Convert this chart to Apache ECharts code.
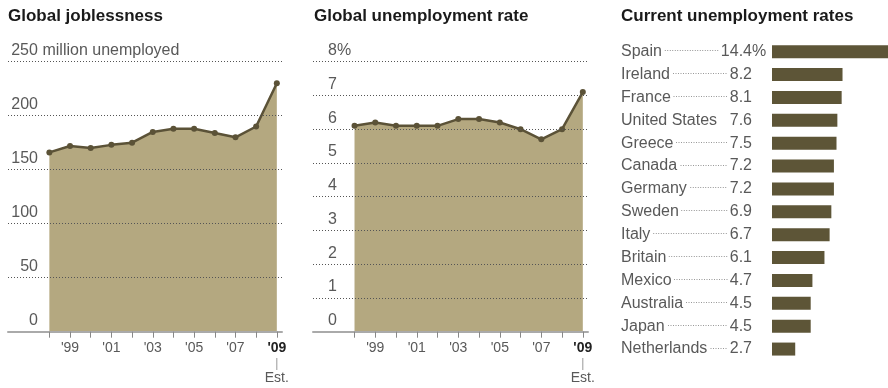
<!DOCTYPE html>
<html>
<head>
<meta charset="utf-8">
<script src="https://cdn.jsdelivr.net/npm/echarts@6/dist/echarts.min.js"></script>
<style>
html,body{margin:0;padding:0;background:#fff;}
#c{width:888px;height:388px;}
</style>
</head>
<body>
<div id="c"></div>
<script>
// ---- data ----
var years = [1998, 1999, 2000, 2001, 2002, 2003, 2004, 2005, 2006, 2007, 2008, 2009];
var labelYears = [1999, 2001, 2003, 2005, 2007, 2009];
var joblessMillions = [166, 172, 170, 173, 175, 185, 188, 188, 184, 180, 190, 230];
var unemploymentRate = [6.1, 6.2, 6.1, 6.1, 6.1, 6.3, 6.3, 6.2, 6.0, 5.7, 6.0, 7.1];
var joblessTicks = [0, 50, 100, 150, 200, 250];
var rateTicks = [0, 1, 2, 3, 4, 5, 6, 7, 8];
var countries = ['Spain', 'Ireland', 'France', 'United States', 'Greece', 'Canada', 'Germany',
  'Sweden', 'Italy', 'Britain', 'Mexico', 'Australia', 'Japan', 'Netherlands'];
var countryRates = [14.4, 8.2, 8.1, 7.6, 7.5, 7.2, 7.2, 6.9, 6.7, 6.1, 4.7, 4.5, 4.5, 2.7];
var countryRateText = ['14.4', '8.2', '8.1', '7.6', '7.5', '7.2', '7.2', '6.9', '6.7', '6.1', '4.7', '4.5', '4.5', '2.7'];

// ---- styles ----
var FONT = '"Liberation Sans", Arial, Helvetica, sans-serif';
var TXT = '#595959';
var AREA = '#b4a880';
var LINE = '#5b5237';
var BAR = '#5d5537';

var cv = document.createElement('canvas').getContext('2d');
function tw(s, size) { cv.font = size + 'px "Liberation Sans", Arial, sans-serif'; return cv.measureText(s).width; }

function yearFmt(v) {
  var s = "'" + String(v).slice(2);
  if (v === 2009) return '{b|' + s + '}\n{l||}\n{e|Est.}';
  return '{t|' + s + '}';
}
var xRich = {
  t: {fontSize: 14, color: TXT, fontFamily: FONT, lineHeight: 15},
  b: {fontSize: 14, color: '#222', fontWeight: 'bold', fontFamily: FONT, lineHeight: 15},
  l: {fontSize: 12, color: '#999', fontFamily: FONT, lineHeight: 15},
  e: {fontSize: 14, color: TXT, fontFamily: FONT, lineHeight: 15}
};

function makeXAxis(gi) {
  return {
    gridIndex: gi, type: 'value', min: 1996, max: 2009.25, z: 6,
    axisLine: {show: true, lineStyle: {color: '#aaa', width: 2}},
    axisTick: {show: true, length: 6, customValues: years, lineStyle: {color: '#888', width: 1}},
    axisLabel: {customValues: labelYears, margin: 9, formatter: yearFmt, rich: xRich},
    splitLine: {show: false}
  };
}

var splitStyle = {show: true, lineStyle: {type: [1, 2], color: '#555', width: 1}};

// right-chart label builder
var LBL_W = 752 - 621;
var DOT_SIZE = 9;
function countryLabel(value, idx) {
  var name = countries[idx];
  var val = countryRateText[idx];
  var nw = tw(name, 16), vw = tw(val, 16);
  var room = LBL_W - nw - vw;
  var dw = tw('.', DOT_SIZE);
  var n = room > 16 ? Math.floor((room - 3) / dw) : 0;
  var dots = n > 0 ? new Array(n + 1).join('.') : ' ';
  var s = '{n|' + name + '}{d' + idx + '|' + dots + '}{v|' + val + '}';
  if (idx === 0) s += '{v|%}';
  return s;
}
var cRich = {
  n: {fontSize: 16, color: TXT, fontFamily: FONT},
  v: {fontSize: 16, color: TXT, fontFamily: FONT}
};
countries.forEach(function (c, i) {
  var room = LBL_W - tw(c, 16) - tw(countryRateText[i], 16);
  cRich['d' + i] = {fontSize: DOT_SIZE, color: '#888', fontFamily: FONT, width: Math.max(room, 1), align: 'center', padding: [0, 0, 6, 0]};
});

var option = {
  animation: false,
  backgroundColor: '#fff',
  textStyle: {fontFamily: FONT},
  title: [
    {text: 'Global joblessness', left: 8, top: 8, padding: 0, textStyle: {fontSize: 17, fontWeight: 'bold', color: '#1a1a1a', fontFamily: FONT}},
    {text: 'Global unemployment rate', left: 314, top: 8, padding: 0, textStyle: {fontSize: 17, fontWeight: 'bold', color: '#1a1a1a', fontFamily: FONT}},
    {text: 'Current unemployment rates', left: 621, top: 8, padding: 0, textStyle: {fontSize: 17, fontWeight: 'bold', color: '#1a1a1a', fontFamily: FONT}}
  ],
  grid: [
    {left: 8, top: 61.7, width: 274, height: 270, containLabel: false, outerBoundsMode: 'none'},
    {left: 313, top: 61.7, width: 275, height: 270, containLabel: false, outerBoundsMode: 'none'},
    {left: 772, top: 40.3, width: 129, height: 320.2, containLabel: false, outerBoundsMode: 'none'}
  ],
  xAxis: [
    makeXAxis(0),
    makeXAxis(1),
    {gridIndex: 2, type: 'value', min: 0, max: 15, show: false}
  ],
  yAxis: [
    {
      gridIndex: 0, type: 'value', min: joblessTicks[0], max: joblessTicks[joblessTicks.length - 1], interval: 50, z: 5,
      axisLine: {show: false}, axisTick: {show: false}, splitLine: splitStyle,
      axisLabel: {
        inside: true, margin: 3, align: 'left', verticalAlign: 'bottom', padding: [0, 0, 3, 0],
        formatter: function (v) { return v === 250 ? '{n|250}{u| million unemployed}' : '{n|' + v + '}'; },
        rich: {n: {width: 27, align: 'right', fontSize: 16, color: TXT, fontFamily: FONT}, u: {fontSize: 16, color: TXT, fontFamily: FONT}}
      }
    },
    {
      gridIndex: 1, type: 'value', min: rateTicks[0], max: rateTicks[rateTicks.length - 1], interval: 1, z: 5,
      axisLine: {show: false}, axisTick: {show: false}, splitLine: splitStyle,
      axisLabel: {
        inside: true, margin: 15, align: 'left', verticalAlign: 'bottom', padding: [0, 0, 3, 0],
        formatter: function (v) { return v === 8 ? '{n|8}{u|%}' : '{n|' + v + '}'; },
        rich: {n: {width: 9, align: 'right', fontSize: 16, color: TXT, fontFamily: FONT}, u: {fontSize: 16, color: TXT, fontFamily: FONT}}
      }
    },
    {
      gridIndex: 2, type: 'category', data: countries, inverse: true,
      axisLine: {show: false}, axisTick: {show: false}, splitLine: {show: false},
      axisLabel: {margin: 151, align: 'left', interval: 0, formatter: countryLabel, rich: cRich}
    }
  ],
  series: [
    {
      type: 'line', xAxisIndex: 0, yAxisIndex: 0, z: 2,
      data: years.map(function (y, i) { return [y, joblessMillions[i]]; }),
      symbol: 'circle', symbolSize: 6,
      lineStyle: {color: LINE, width: 2.5},
      itemStyle: {color: LINE},
      areaStyle: {color: AREA, opacity: 1}
    },
    {
      type: 'line', xAxisIndex: 1, yAxisIndex: 1, z: 2,
      data: years.map(function (y, i) { return [y, unemploymentRate[i]]; }),
      symbol: 'circle', symbolSize: 6,
      lineStyle: {color: LINE, width: 2.5},
      itemStyle: {color: LINE},
      areaStyle: {color: AREA, opacity: 1}
    },
    {
      type: 'bar', xAxisIndex: 2, yAxisIndex: 2,
      data: countryRates, barWidth: 13,
      itemStyle: {color: BAR}
    }
  ]
};

var chart = echarts.init(document.getElementById('c'), null, {renderer: 'canvas'});
chart.setOption(option);
</script>
</body>
</html>
